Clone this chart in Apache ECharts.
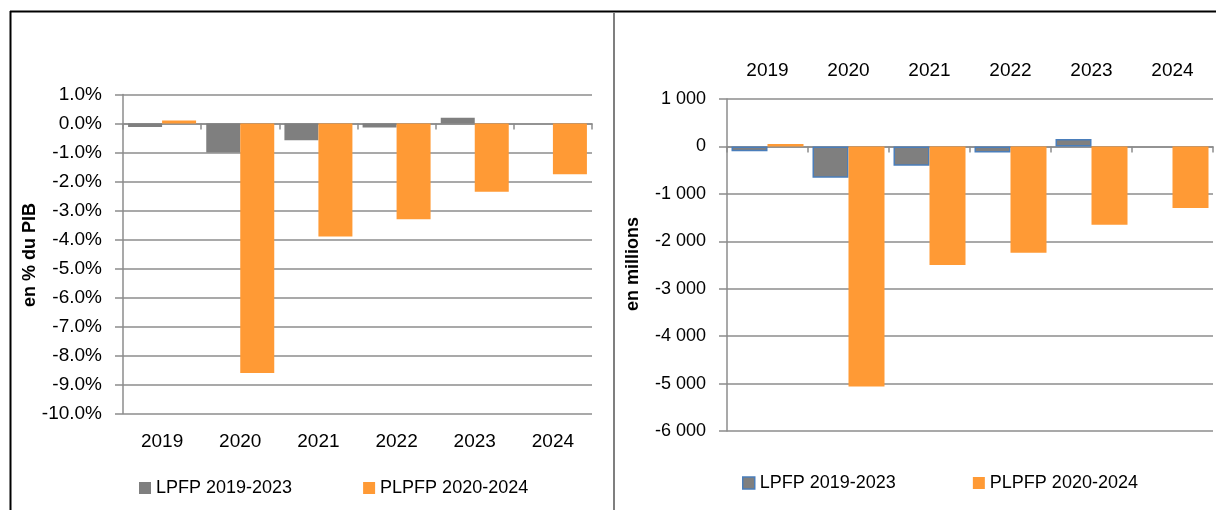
<!DOCTYPE html>
<html>
<head>
<meta charset="utf-8">
<script src="https://cdn.jsdelivr.net/npm/echarts@6/dist/echarts.min.js"></script>
<style>
    html, body { margin: 0; padding: 0; background: #fff; }
    #main { width: 1216px; height: 510px; }
</style>
</head>
<body>
<div id="main"></div>
<script>
// données
var years = ['2019', '2020', '2021', '2022', '2023', '2024'];
var lpfpPib = [-0.12, -1.0, -0.58, -0.14, 0.2, null];      // LPFP 2019-2023, en % du PIB
var plpfpPib = [0.1, -8.6, -3.9, -3.3, -2.35, -1.75];     // PLPFP 2020-2024, en % du PIB
var lpfpMillions = [-100, -660, -410, -130, 155, null];    // LPFP 2019-2023, en millions
var plpfpMillions = [50, -5060, -2500, -2240, -1650, -1300]; // PLPFP 2020-2024, en millions
var pibTicks = { min: -10, max: 1, interval: 1 };
var millionsTicks = { min: -6000, max: 1000, interval: 1000 };

var FONT = 'Liberation Sans';
var GREY = '#7f7f7f';
var ORANGE = '#ff9a35';
var BLUE = '#4a7ebb';
var LINE = '#8c8c8c';

function fmtMillions(v) {
    var s = Math.abs(v).toString().replace(/\B(?=(\d{3})+(?!\d))/g, ' ');
    return (v < 0 ? '-' : '') + s;
}

function valueAxis(gridIndex, ticks, formatter, fontSize) {
    return {
        type: 'value',
        gridIndex: gridIndex,
        min: ticks.min,
        max: ticks.max,
        interval: ticks.interval,
        axisLine: { show: true, lineStyle: { color: LINE, width: 1.5 } },
        axisTick: { show: true, length: 8, lineStyle: { color: LINE, width: 1.5 } },
        splitLine: { show: true, lineStyle: { color: LINE, width: 1.5 } },
        axisLabel: { margin: 21, color: '#000', fontFamily: FONT, fontSize: fontSize, formatter: formatter }
    };
}

// axe des catégories qui porte les libellés (en bas ou en haut)
function labelAxis(gridIndex, position) {
    return {
        type: 'category',
        gridIndex: gridIndex,
        position: position,
        data: years,
        axisLine: { show: false, onZero: false },
        axisTick: { show: false },
        axisLabel: { margin: 19, color: '#000', fontFamily: FONT, fontSize: 19 }
    };
}

// axe des catégories posé sur le zéro (trait + graduations vers le bas)
function zeroAxis(gridIndex, position) {
    return {
        type: 'category',
        gridIndex: gridIndex,
        position: position,
        data: years,
        axisLine: { show: true, onZero: true, lineStyle: { color: LINE, width: 1.5 } },
        axisTick: { show: true, inside: position == 'top', length: 6, lineStyle: { color: LINE, width: 1.5 } },
        axisLabel: { show: false }
    };
}

var myChart = echarts.init(document.getElementById('main'));
var option = {
    animation: false,
    backgroundColor: '#fff',
    textStyle: { fontFamily: FONT },
    grid: [
        { left: 123, top: 94.5, width: 469, height: 319 },
        { left: 727, top: 99, width: 486, height: 332 }
    ],
    xAxis: [
        labelAxis(0, 'bottom'),
        zeroAxis(0, 'top'),
        labelAxis(1, 'top'),
        zeroAxis(1, 'bottom')
    ],
    yAxis: [
        valueAxis(0, pibTicks, function (v) { return v.toFixed(1) + '%'; }, 19),
        valueAxis(1, millionsTicks, fmtMillions, 18)
    ],
    legend: [
        {
            left: 134, top: 474,
            icon: 'rect', itemWidth: 12, itemHeight: 12, itemGap: 71,
            textStyle: { color: '#000', fontFamily: FONT, fontSize: 18 },
            data: [
                { name: 'LPFP 2019-2023', itemStyle: { color: GREY, borderWidth: 0 } },
                { name: 'PLPFP 2020-2024', itemStyle: { color: ORANGE } }
            ]
        },
        {
            left: 737, top: 469,
            icon: 'rect', itemWidth: 12, itemHeight: 12, itemGap: 77,
            textStyle: { color: '#000', fontFamily: FONT, fontSize: 18 },
            data: [
                { name: 'LPFP 2019-2023', itemStyle: { color: GREY, borderColor: BLUE, borderWidth: 1.5 } },
                { name: 'PLPFP 2020-2024', itemStyle: { color: ORANGE } }
            ]
        }
    ],
    series: [
        {
            name: 'LPFP 2019-2023', type: 'bar', xAxisIndex: 0, yAxisIndex: 0,
            barWidth: 34, barGap: '0%',
            itemStyle: { color: GREY },
            data: lpfpPib
        },
        {
            name: 'PLPFP 2020-2024', type: 'bar', xAxisIndex: 0, yAxisIndex: 0,
            barWidth: 34, barGap: '0%',
            itemStyle: { color: ORANGE },
            data: plpfpPib
        },
        {
            name: 'LPFP 2019-2023', type: 'bar', xAxisIndex: 2, yAxisIndex: 1,
            barWidth: 36, barGap: '0%',
            itemStyle: { color: GREY, borderColor: BLUE, borderWidth: 1.5 },
            data: lpfpMillions
        },
        {
            name: 'PLPFP 2020-2024', type: 'bar', xAxisIndex: 2, yAxisIndex: 1,
            barWidth: 36, barGap: '0%',
            itemStyle: { color: ORANGE },
            data: plpfpMillions
        }
    ],
    graphic: [
        // cadre
        { type: 'line', shape: { x1: 10, y1: 11.5, x2: 1216, y2: 11.5 }, style: { stroke: '#000', lineWidth: 2 } },
        { type: 'line', shape: { x1: 10.5, y1: 11, x2: 10.5, y2: 510 }, style: { stroke: '#000', lineWidth: 2 } },
        { type: 'line', shape: { x1: 614, y1: 12, x2: 614, y2: 510 }, style: { stroke: '#7f7f7f', lineWidth: 2 } },
        // titres des axes verticaux
        {
            type: 'text', x: 30, y: 255, rotation: Math.PI / 2,
            style: { text: 'en % du PIB', fill: '#000', font: 'bold 18px "Liberation Sans"', textAlign: 'center', textVerticalAlign: 'middle' }
        },
        {
            type: 'text', x: 633, y: 264, rotation: Math.PI / 2,
            style: { text: 'en millions', fill: '#000', font: 'bold 18px "Liberation Sans"', textAlign: 'center', textVerticalAlign: 'middle' }
        }
    ]
};
myChart.setOption(option);
</script>
</body>
</html>
